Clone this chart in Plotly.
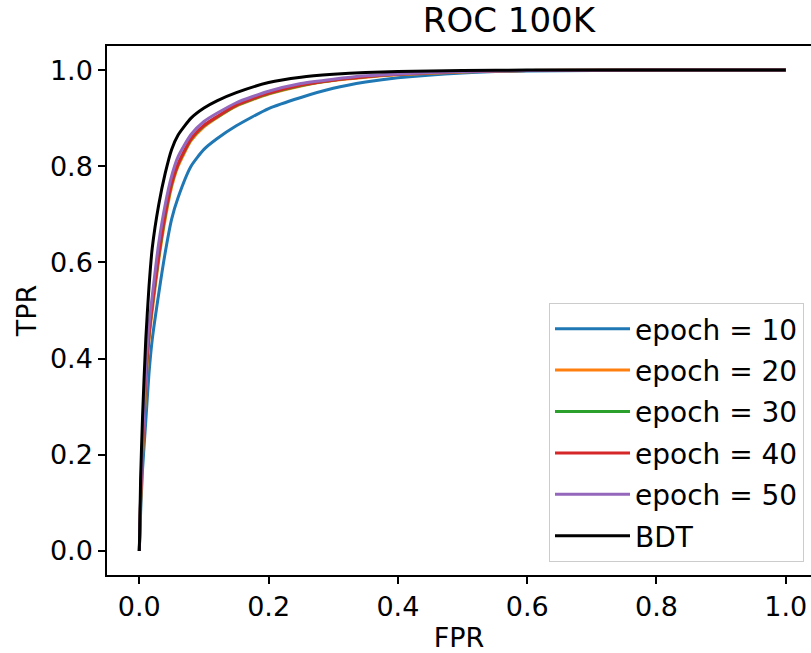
import plotly.graph_objects as go

# Shared FPR grid (x values)
fpr = [0.0, 0.002, 0.005, 0.01, 0.015, 0.02, 0.03, 0.04, 0.05, 0.06, 0.08,
       0.10, 0.12, 0.15, 0.20, 0.25, 0.30, 0.35, 0.40, 0.50, 0.60, 0.80, 1.0]

# TPR values per curve
tpr_epoch10 = [0.0, 0.08, 0.17, 0.27, 0.37, 0.44, 0.535, 0.62, 0.69, 0.735, 0.800,
               0.835, 0.857, 0.884, 0.920, 0.943, 0.962, 0.975, 0.984, 0.994, 0.998, 1.0, 1.0]
tpr_epoch20 = [0.0, 0.10, 0.20, 0.34, 0.44, 0.50, 0.605, 0.69, 0.757, 0.80, 0.853,
               0.882, 0.901, 0.925, 0.950, 0.967, 0.978, 0.985, 0.990, 0.996, 0.999, 1.0, 1.0]
tpr_epoch30 = [0.0, 0.11, 0.21, 0.355, 0.45, 0.51, 0.612, 0.697, 0.763, 0.804, 0.856,
               0.884, 0.902, 0.926, 0.951, 0.968, 0.979, 0.986, 0.991, 0.997, 0.999, 1.0, 1.0]
tpr_epoch40 = [0.0, 0.11, 0.21, 0.36, 0.45, 0.51, 0.615, 0.70, 0.765, 0.805, 0.857,
               0.885, 0.903, 0.927, 0.952, 0.969, 0.979, 0.986, 0.991, 0.997, 0.999, 1.0, 1.0]
tpr_epoch50 = [0.0, 0.12, 0.23, 0.38, 0.47, 0.53, 0.64, 0.72, 0.78, 0.82, 0.866,
               0.893, 0.910, 0.932, 0.956, 0.972, 0.981, 0.988, 0.992, 0.997, 0.999, 1.0, 1.0]
tpr_bdt = [0.0, 0.15, 0.28, 0.44, 0.55, 0.63, 0.72, 0.785, 0.835, 0.865, 0.900,
           0.921, 0.936, 0.953, 0.974, 0.985, 0.991, 0.995, 0.997, 0.999, 1.0, 1.0, 1.0]

series_names = ["epoch = 10", "epoch = 20", "epoch = 30", "epoch = 40", "epoch = 50", "BDT"]
series_tpr = [tpr_epoch10, tpr_epoch20, tpr_epoch30, tpr_epoch40, tpr_epoch50, tpr_bdt]
series_colors = ["#1f77b4", "#ff7f0e", "#2ca02c", "#d62728", "#9467bd", "#000000"]

tick_vals = [0.0, 0.2, 0.4, 0.6, 0.8, 1.0]
tick_text = ["0.0", "0.2", "0.4", "0.6", "0.8", "1.0"]

FONT = "DejaVu Sans"

fig = go.Figure()
for name, tpr, col in zip(series_names, series_tpr, series_colors):
    fig.add_trace(go.Scatter(x=fpr, y=tpr, mode="lines", name=name, legendgroup=name,
                             line=dict(color=col, width=3, shape="spline", smoothing=0.6)))

axis_common = dict(
    showgrid=False, zeroline=False, showline=True, linecolor="#000000", linewidth=1.5,
    ticks="outside", ticklen=7, tickwidth=1.5, tickcolor="#000000",
    tickvals=tick_vals, ticktext=tick_text,
    tickfont=dict(family=FONT, size=27, color="#000000"),
)

fig.update_layout(
    width=811, height=653,
    margin=dict(l=107, r=0, t=46, b=78),
    paper_bgcolor="white", plot_bgcolor="white",
    title=dict(text="ROC 100K", x=463 / 811, xanchor="center", xref="paper",
               y=1 - 20 / 653, yanchor="middle", yref="container",
               font=dict(family=FONT, size=34, color="#000000")),
    xaxis=dict(range=[-0.05, 1.039], mirror=True,
               title=dict(text="FPR", font=dict(family=FONT, size=27, color="#000000"), standoff=10),
               **axis_common),
    yaxis=dict(range=[-0.05, 1.05], mirror=False,
               title=dict(text="TPR", font=dict(family=FONT, size=27, color="#000000"), standoff=5),
               **axis_common),
    legend=dict(x=(804 - 107) / 704, y=0.0246, xanchor="right", yanchor="bottom",
                bgcolor="rgba(255,255,255,0.8)", bordercolor="#cccccc", borderwidth=1,
                itemwidth=75, tracegroupgap=2, traceorder="grouped",
                font=dict(family=FONT, size=28, color="#000000")),
    showlegend=True,
)
fig.update_xaxes(automargin=False)
fig.update_yaxes(automargin=False)

fig.write_html("out.html")
